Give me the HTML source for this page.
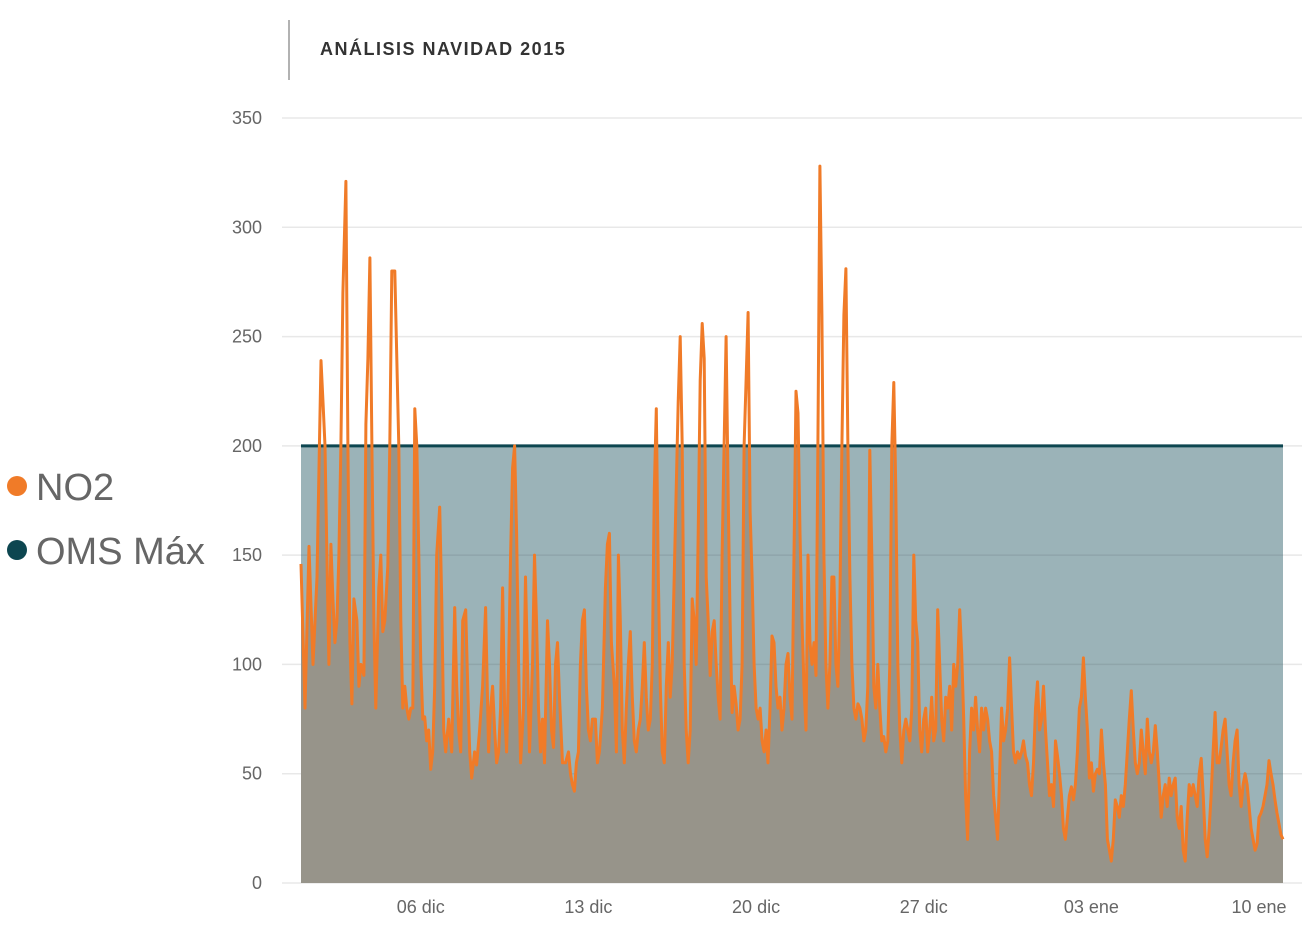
<!DOCTYPE html>
<html><head><meta charset="utf-8"><style>
body{margin:0;background:#fff;font-family:"Liberation Sans",sans-serif}
svg{display:block}
</style></head><body>
<svg width="1308" height="936" xmlns="http://www.w3.org/2000/svg">
<defs><clipPath id="bandClip"><rect x="0" y="446" width="1308" height="440"/></clipPath></defs>
<line x1="289" y1="20" x2="289" y2="80" stroke="#999" stroke-width="1.5"/>
<text x="320" y="55" font-size="18" font-weight="bold" fill="#333" letter-spacing="1.5">ANÁLISIS NAVIDAD 2015</text>
<g id="grid"></g>
<g id="yticks"></g>
<g id="xticks"></g>
<g id="plot"></g>
<g>
<g><circle cx="17" cy="486" r="10" fill="#f07b28"/><text x="36" y="500" font-size="38" fill="#666">NO2</text></g>
<g><circle cx="17" cy="550" r="10" fill="#0d4650"/><text x="36" y="564" font-size="38" fill="#666">OMS Máx</text></g>
</g>
</svg>
<script>
const yTicks=[0,50,100,150,200,250,300,350];
const xTickLabels=["06 dic","13 dic","20 dic","27 dic","03 ene","10 ene"];
const xTickHours=[120,288,456,624,792,960];
const omsMax=200;
const earlyHours=[0,4,8,12,16,18,20,22,24,26,28,30,32,34,36,38,40,42,45,47,49,51,53,56,58,60,63,65,67,69,71,73,75,78,80,82,84,87,89,91,94,96,98,100,102,104,106,108,110,112,114,116,118,120,122,124,126,128,130,132,134,136,139,141,143,145,148,151,154,156,158,160,162,165,167,169,171,174,176,179,182,185,188,190,192,194,196,198,200,202,204,206,208,210,212,214,216,218,220,223,225,227,229,232,234,236,238,240,242,244,247,249,251,253,255,257,259,262,265,268,270,272,274,276,278,280,282,284,286,288,290,292,295,297,299,302,305,307,309,311,314,316,318,320,322,324,326,328,330,332,334];
const earlyValues=[146,80,154,100,140,190,239,220,200,150,100,155,130,110,120,150,200,270,321,200,110,82,130,120,90,100,95,210,240,286,200,120,80,135,150,115,120,145,200,280,280,240,200,120,80,90,80,75,80,80,217,200,150,100,75,76,65,70,52,60,90,150,172,130,70,60,75,60,126,90,70,60,120,125,90,60,48,60,54,70,90,126,60,80,90,70,55,60,80,135,80,60,100,150,190,200,160,100,55,80,140,100,60,100,150,120,80,60,75,55,120,100,70,62,100,110,85,55,55,60,50,45,42,55,60,100,120,125,90,70,65,75,75,55,60,80,135,155,160,110,90,60,150,120,70,55,80,100,115,85,65];
const lateStartHour=336;
const lateStepHours=2;
const lateValues=[60,70,75,90,110,85,70,75,100,180,217,140,90,60,55,90,110,85,100,140,180,220,250,200,100,70,55,70,130,120,100,160,230,256,240,140,120,95,115,120,100,85,75,150,200,250,180,120,78,90,82,70,75,100,200,230,261,170,140,100,80,75,80,65,60,70,55,80,113,110,90,80,85,70,80,100,105,85,75,150,225,215,160,120,90,70,150,110,100,110,95,200,328,260,150,100,80,100,140,140,100,90,130,200,260,281,200,140,100,80,75,82,80,75,65,70,90,198,150,90,80,100,80,65,67,60,65,100,200,229,180,100,70,55,70,75,70,65,80,150,120,110,70,60,75,80,60,70,85,65,70,125,100,75,65,85,80,90,70,100,90,100,125,105,75,40,20,60,80,70,85,70,60,80,70,80,75,65,60,40,30,20,50,80,65,70,80,103,80,60,55,60,57,60,65,58,55,45,40,55,80,92,70,75,90,70,55,40,45,35,65,58,50,40,25,20,30,40,44,38,45,60,80,85,103,85,70,48,55,42,50,52,50,70,55,45,20,15,10,20,38,35,30,40,35,45,60,75,88,70,55,50,55,70,60,50,75,60,55,60,72,60,45,30,40,45,35,48,40,45,48,30,25,35,15,10,30,45,40,45,40,35,50,57,40,20,12,25,40,60,78,55,55,62,70,75,60,45,40,55,65,70,45,35,45,50,45,35,25,20,15,18,30,32,35,40,45,56,50,45,38,32,27,22,20];
const NS="http://www.w3.org/2000/svg";
const X0=301,X1=1283,H1=984,Y0=883,Y350=118;
const xs=h=>X0+(h/H1)*(X1-X0);
const ys=v=>Y0-(v/350)*(Y0-Y350);
function mk(tag,attrs,parent){const e=document.createElementNS(NS,tag);for(const k in attrs)e.setAttribute(k,attrs[k]);parent.appendChild(e);return e;}
const grid=document.getElementById('grid'),yt=document.getElementById('yticks'),xt=document.getElementById('xticks'),plot=document.getElementById('plot');
yTicks.forEach(v=>{
  const l=mk('line',{x1:282,x2:1302,y1:ys(v),y2:ys(v),stroke:'#e8e8e8','stroke-width':1.5},grid);
  
  
  const t=mk('text',{x:262,y:ys(v)+6,'text-anchor':'end','font-size':18,fill:'#666'},yt);
  t.textContent=v;
  
  
});
xTickLabels.forEach((lab,i)=>{
  const t=mk('text',{x:xs(xTickHours[i]),y:913,'text-anchor':'middle','font-size':18,fill:'#666'},xt);
  t.textContent=lab;
  
  
});
const pts=[];
earlyHours.forEach((h,i)=>pts.push([h,earlyValues[i]]));
lateValues.forEach((v,i)=>pts.push([lateStartHour+i*lateStepHours,v]));
const lastH=pts[pts.length-1][0];
const band=mk('rect',{x:xs(0),y:ys(omsMax),width:xs(lastH)-xs(0),height:Y0-ys(omsMax),fill:'#9bb3b8'},plot);


yTicks.filter(v=>v>0&&v<omsMax).forEach(v=>{
  const l=mk('line',{x1:xs(0),x2:xs(lastH),y1:ys(v),y2:ys(v),stroke:'#8fa5aa','stroke-width':1.5},plot);
  
  
});
let d='M'+xs(pts[0][0])+','+Y0;
pts.forEach(p=>d+='L'+xs(p[0]).toFixed(1)+','+ys(p[1]).toFixed(1));
d+='L'+xs(lastH)+','+Y0+'Z';
const area=mk('path',{d:d,fill:'#97948a','clip-path':'url(#bandClip)'},plot);


const oms=mk('line',{x1:xs(0),x2:xs(lastH),y1:ys(omsMax),y2:ys(omsMax),stroke:'#0d4650','stroke-width':3},plot);


let ld='';
pts.forEach((p,i)=>ld+=(i?'L':'M')+xs(p[0]).toFixed(1)+','+ys(p[1]).toFixed(1));
const line=mk('path',{d:ld,fill:'none',stroke:'#f07b28','stroke-width':3,'stroke-linejoin':'round'},plot);


</script>
</body></html>
